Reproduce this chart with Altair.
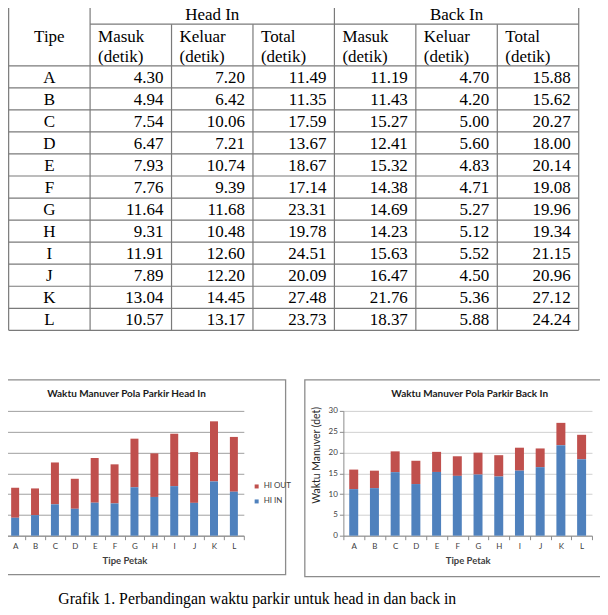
import altair as alt
import pandas as pd

# ---------------- data ----------------
tipe = ["A", "B", "C", "D", "E", "F", "G", "H", "I", "J", "K", "L"]
hi_masuk = [4.30, 4.94, 7.54, 6.47, 7.93, 7.76, 11.64, 9.31, 11.91, 7.89, 13.04, 10.57]
hi_keluar = [7.20, 6.42, 10.06, 7.21, 10.74, 9.39, 11.68, 10.48, 12.60, 12.20, 14.45, 13.17]
hi_total = [11.49, 11.35, 17.59, 13.67, 18.67, 17.14, 23.31, 19.78, 24.51, 20.09, 27.48, 23.73]
bi_masuk = [11.19, 11.43, 15.27, 12.41, 15.32, 14.38, 14.69, 14.23, 15.63, 16.47, 21.76, 18.37]
bi_keluar = [4.70, 4.20, 5.00, 5.60, 4.83, 4.71, 5.27, 5.12, 5.52, 4.50, 5.36, 5.88]
bi_total = [15.88, 15.62, 20.27, 18.00, 20.14, 19.08, 19.96, 19.34, 21.15, 20.96, 27.12, 24.24]

tipe_header = "Tipe"
group_headers = ["Head In", "Back In"]
column_headers = ["Masuk", "Keluar", "Total"]
unit_label = "(detik)"
hi_series = ["HI OUT", "HI IN"]
bi_series = ["BI OUT", "BI IN"]
y_ticks = [0, 5, 10, 15, 20, 25, 30]
title_hi = "Waktu Manuver Pola Parkir Head In"
title_bi = "Waktu Manuver Pola Parkir Back In"
x_title = "Tipe Petak"
y_title = "Waktu Manuver (det)"
caption = "Grafik 1. Perbandingan waktu parkir untuk head in dan back in"

# ---------------- styles / layout ----------------
RED = "#C0504D"
BLUE = "#4F81BD"
AXC = "#8c8c8c"
LINE = "#7a7a7a"
SERIF = "Liberation Serif"
SANS = "Lato"

COL_W = 81.57
N_COLS = 7
TAB_EXTRA = 3.45
X0 = -TAB_EXTRA / COL_W
TAB_W = COL_W * N_COLS + TAB_EXTRA
ROW_H = 22.08
H1 = 0.969
H2 = 2.858
Y_END = H2 + len(tipe)
TAB_H = Y_END * ROW_H

# ---------------- table ----------------
xs = alt.Scale(domain=[X0, N_COLS], nice=False, zero=False)
ys = alt.Scale(domain=[0, Y_END], nice=False, zero=False, reverse=True)

h_rows = [{"y": 0, "x1": 0, "x2": 7}, {"y": H1, "x1": 1, "x2": 7}, {"y": H2, "x1": 0, "x2": 7}]
h_rows += [{"y": H2 + i + 1, "x1": 0, "x2": 7} for i in range(len(tipe))]
v_rows = []
for c in range(N_COLS + 1):
    start = 0 if c in (0, 1, 4, 7) else H1
    v_rows.append({"x": c, "y1": start, "y2": Y_END})

hrule = alt.Chart(pd.DataFrame(h_rows)).mark_rule(color=LINE, strokeWidth=1.2).encode(
    x=alt.X("x1:Q", scale=xs, axis=None), x2="x2:Q",
    y=alt.Y("y:Q", scale=ys, axis=None))
vrule = alt.Chart(pd.DataFrame(v_rows)).mark_rule(color=LINE, strokeWidth=1.2).encode(
    x=alt.X("x:Q", scale=xs, axis=None),
    y=alt.Y("y1:Q", scale=ys, axis=None), y2="y2:Q")

c_rows = [{"t": tipe_header, "x": 0.5, "y": 1.757},
          {"t": group_headers[0], "x": 2.5, "y": 0.79},
          {"t": group_headers[1], "x": 5.5, "y": 0.79}]
c_rows += [{"t": t, "x": 0.5, "y": H2 + i + 0.77} for i, t in enumerate(tipe)]
l_rows = []
for g in range(2):
    for j, h in enumerate(column_headers):
        l_rows.append({"t": h, "x": 1 + 3 * g + j, "y": 1.757})
        l_rows.append({"t": unit_label, "x": 1 + 3 * g + j, "y": 2.708})
r_rows = []
for j, col in enumerate([hi_masuk, hi_keluar, hi_total, bi_masuk, bi_keluar, bi_total]):
    for i, v in enumerate(col):
        r_rows.append({"t": f"{v:.2f}", "x": j + 2, "y": H2 + i + 0.77})

def table_text(rows, align, dx):
    return alt.Chart(pd.DataFrame(rows)).mark_text(
        font=SERIF, fontSize=17, color="black", baseline="alphabetic", align=align, dx=dx
    ).encode(x=alt.X("x:Q", scale=xs, axis=None), y=alt.Y("y:Q", scale=ys, axis=None), text="t:N")

table = alt.layer(
    hrule, vrule,
    table_text(c_rows, "center", 0),
    table_text(l_rows, "left", 8),
    table_text(r_rows, "right", -8),
).properties(width=TAB_W, height=TAB_H)

# ---------------- bar charts ----------------
PLOT_H = 125
FRAME_TOP = -31

def bar_chart(masuk, keluar, series, title, width, bar_size, show_labels, grid_color,
              legend_x, legend_y, frame_box):
    df = pd.DataFrame({
        "Tipe": tipe * 2,
        "Nilai": keluar + masuk,
        "Seri": [series[0]] * len(tipe) + [series[1]] * len(tipe),
        "Urut": [1] * len(tipe) + [0] * len(tipe),
    })
    if show_labels:
        yaxis = alt.Axis(values=y_ticks, title=y_title, labelFont=SANS, labelFontSize=8,
                         labelColor="#404040", labelPadding=2, tickSize=4, tickColor=AXC,
                         domainColor=AXC, gridColor=grid_color,
                         titleFont=SANS, titleFontSize=10.5, titleFontWeight="normal",
                         titleColor="#262626", titleX=-27, titleY=44, titleAngle=270,
                         titleAlign="center", titleBaseline="middle")
    else:
        yaxis = alt.Axis(values=y_ticks, title=None, labels=False, tickSize=4, tickColor=AXC,
                         domainColor=AXC, gridColor=grid_color)
    xaxis = alt.Axis(title=x_title, labelAngle=0, labelFont=SANS, labelFontSize=8,
                     labelColor="#404040", labelPadding=3, tickSize=4, tickBand="extent",
                     tickColor=AXC, domainColor=AXC, titleFont=SANS, titleFontSize=9.5,
                     titleFontWeight="bold", titleColor="#404040", titlePadding=5)
    bars = alt.Chart(df).mark_bar(size=bar_size).encode(
        x=alt.X("Tipe:N", sort=tipe, scale=alt.Scale(paddingInner=0, paddingOuter=0), axis=xaxis),
        y=alt.Y("Nilai:Q", stack="zero", scale=alt.Scale(domain=[0, 30], nice=False), axis=yaxis),
        color=alt.Color("Seri:N", scale=alt.Scale(domain=series, range=[RED, BLUE]),
                        legend=alt.Legend(orient="none", legendX=legend_x, legendY=legend_y,
                                          title=None, symbolType="square", symbolSize=16,
                                          symbolStrokeWidth=0, labelFont=SANS, labelFontSize=8,
                                          labelColor="#404040", labelOffset=3, rowPadding=7,
                                          padding=0)),
        order=alt.Order("Urut:Q"),
    )
    fx1, fx2, fy2 = frame_box
    frame = alt.Chart(pd.DataFrame({"f": [0]})).mark_rect(
        fill="white", fillOpacity=0, stroke="#8c8c8c", strokeWidth=1.3
    ).encode(x=alt.value(fx1), x2=alt.value(fx2), y=alt.value(FRAME_TOP), y2=alt.value(fy2))
    return alt.layer(frame, bars).properties(
        width=width, height=PLOT_H,
        title=alt.TitleParams(title, font=SANS, fontSize=10, fontWeight="bold", color="#1a1a1a",
                              frame="group", offset=-20, dx=2),
    )

left = bar_chart(hi_masuk, hi_keluar, hi_series, title_hi, 239, 8, False, "#a0a0a0",
                 247.85, 71.7, (-9, 280.85, 164))
right = bar_chart(bi_masuk, bi_keluar, bi_series, title_bi, 249, 9, True, "#d0d0d0",
                  259.1, 76, (-38.6, 320, 166))

bottom = alt.hconcat(left, right, spacing=11.7).resolve_scale(color="independent")

chart = alt.vconcat(table, bottom, spacing=47.75).properties(
    title=alt.TitleParams(caption, orient="bottom", anchor="start", frame="bounds",
                          font=SERIF, fontSize=15.8, fontWeight="normal", color="black",
                          offset=15, dx=62.8),
    padding={"left": -12.8, "top": -6.7, "right": -64.25, "bottom": 0},
    background="white",
).configure_view(stroke=None)

chart.save("out.html", embed_options={"renderer": "svg", "actions": False})
